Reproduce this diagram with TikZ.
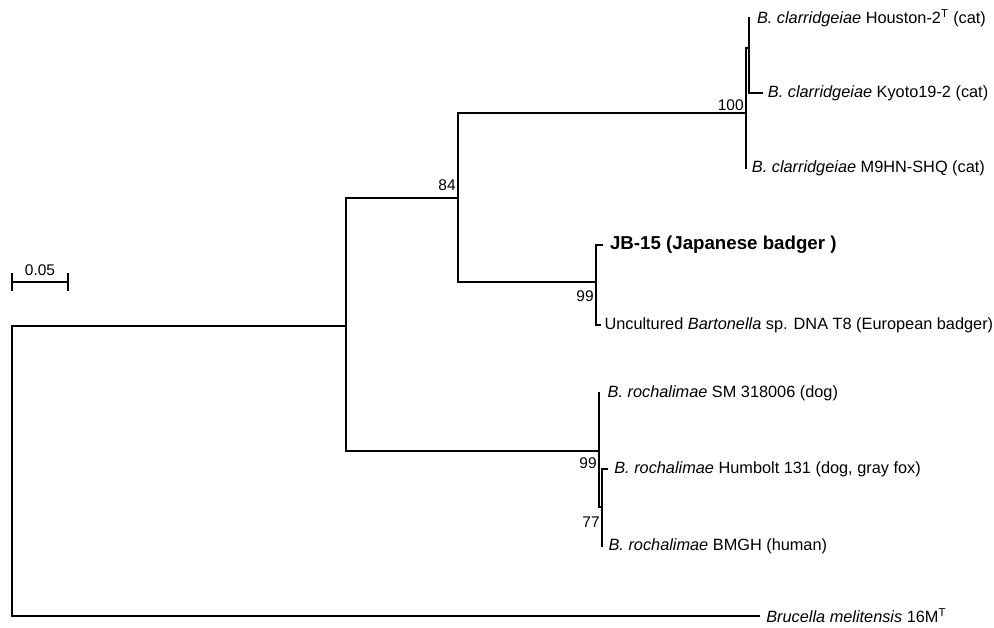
\documentclass[tikz,border=0pt]{standalone}
\usepackage{fontspec}
\setmainfont{Liberation Sans}
\usetikzlibrary{positioning}
\tikzset{
  branch/.style={line width=1.2pt, line cap=rect},
  leaf/.style={inner sep=0pt, font=\fontsize{11.6}{13}\selectfont},
  boot/.style={inner sep=1.5pt, font=\fontsize{11}{13}\selectfont},
}
\begin{document}
\begin{tikzpicture}[x=0.025cm, y=-0.025cm]
	\useasboundingbox (0,0) rectangle (994,628);
	
	% inner nodes
	\coordinate (root) at (12,461);
	\coordinate (a) at (346,326);
	\coordinate (b) at (458,198);
	\coordinate (c) at (746,113);
	\coordinate (d) at (749,48);
	\coordinate (e) at (596,282);
	\coordinate (f) at (599,451);
	\coordinate (g) at (602,507);
	
	% leaves
	\coordinate (hou) at (749,18);
	\coordinate (kyo) at (762,93);
	\coordinate (m9) at (746,168);
	\coordinate (jb) at (602,245);
	\coordinate (unc) at (600,325);
	\coordinate (sm) at (599,393);
	\coordinate (hum) at (607,469);
	\coordinate (bmgh) at (602,546);
	\coordinate (bru) at (759,616);
	
	% branches
	\draw[branch] (root) |- (a);
	\draw[branch] (root) |- (bru);
	\draw[branch] (a) |- (b);
	\draw[branch] (a) |- (f);
	\draw[branch] (b) |- (c);
	\draw[branch] (b) |- (e);
	\draw[branch] (c) |- (d);
	\draw[branch] (c) |- (m9);
	\draw[branch] (d) |- (hou);
	\draw[branch] (d) |- (kyo);
	\draw[branch] (e) |- (jb);
	\draw[branch] (e) |- (unc);
	\draw[branch] (f) |- (sm);
	\draw[branch] (f) |- (g);
	\draw[branch] (g) |- (hum);
	\draw[branch] (g) |- (bmgh);
	
	% taxa
	\node[leaf, right=5.5pt] (hou-l) at (hou) {\textit{B. clarridgeiae} Houston-2\textsuperscript{T} (cat)};
	\node[leaf, right=4pt] (kyo-l) at (kyo) {\textit{B. clarridgeiae} Kyoto19-2 (cat)};
	\node[leaf, right=4pt] (m9-l) at (m9) {\textit{B. clarridgeiae} M9HN-SHQ (cat)};
	\node[leaf, right=5.5pt, font=\bfseries\fontsize{13.3}{15}\selectfont] (jb-l) at (jb) {JB-15 (Japanese badger )};
	\node[leaf, right=3pt] (unc-l) at (unc) {Uncultured \textit{Bartonella} sp. DNA T8 (European badger)};
	\node[leaf, right=6pt] (sm-l) at (sm) {\textit{B. rochalimae} SM 318006 (dog)};
	\node[leaf, right=5pt] (hum-l) at (hum) {\textit{B. rochalimae} Humbolt 131 (dog, gray fox)};
	\node[leaf, right=4.5pt] (bmgh-l) at (bmgh) {\textit{B. rochalimae} BMGH (human)};
	\node[leaf, right=5pt] (bru-l) at (bru) {\textit{Brucella melitensis} 16M\textsuperscript{T}};
	
	% bootstrap values
	\node[boot, above left] (c-bs) at (c) {100};
	\node[boot, above left] (b-bs) at ([yshift=0.12cm]b) {84};
	\node[boot, below left] (e-bs) at ([yshift=-0.15cm]e) {99};
	\node[boot, left] (f-bs) at ([yshift=-0.3cm]f) {99};
	\node[boot, left] (g-bs) at ([yshift=-0.38cm]g) {77};
	
	% scale bar
	\coordinate (sb1) at (12,282);
	\coordinate (sb2) at (68,282);
	\coordinate (sbm) at (40,282);
	\draw[line width=1.1pt] (sb1) -- (sb2);
	\draw[line width=1.1pt] ([yshift=0.22cm]sb1) -- ([yshift=-0.22cm]sb1);
	\draw[line width=1.1pt] ([yshift=0.22cm]sb2) -- ([yshift=-0.22cm]sb2);
	\node[boot, above=3pt] (sb-l) at (sbm) {0.05};
\end{tikzpicture}
\end{document}
